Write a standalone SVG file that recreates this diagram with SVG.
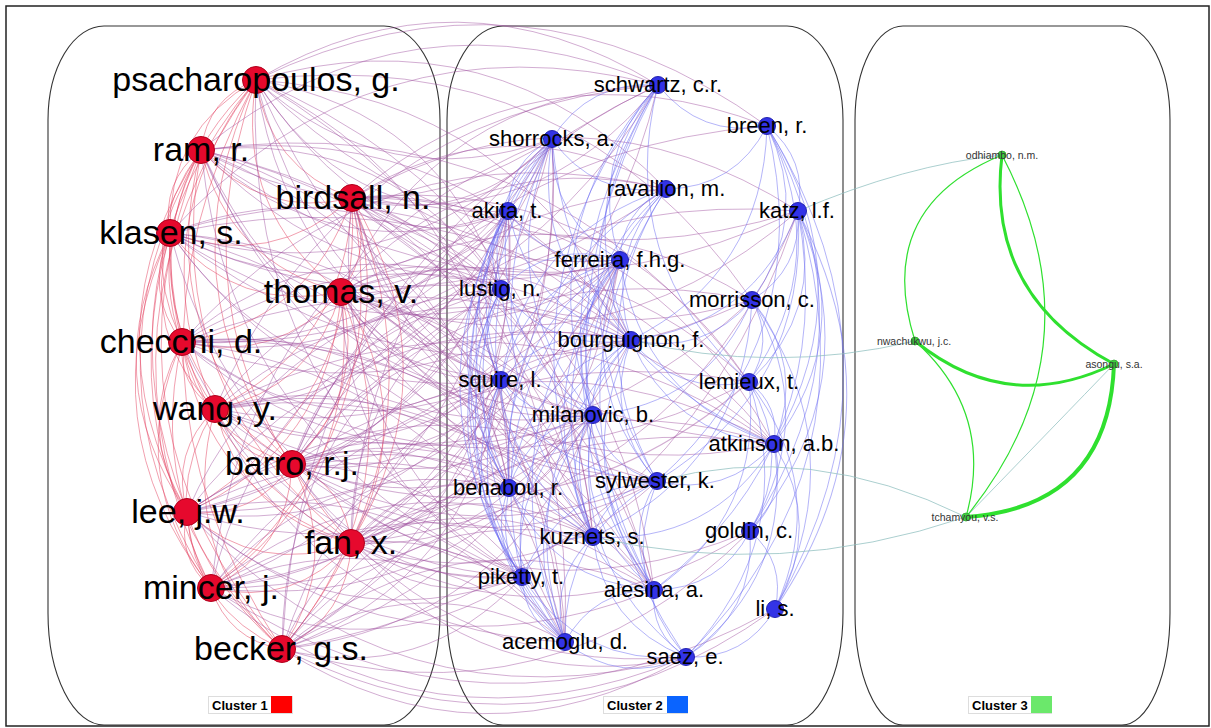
<svg xmlns="http://www.w3.org/2000/svg" xmlns:xlink="http://www.w3.org/1999/xlink" width="1211" height="728" viewBox="0 0 1211 728">
<style>
.panel{fill:none;stroke:#333;stroke-width:1.1}
.c1{stroke:#e3405f;stroke-opacity:.5}
.cx{stroke:#9d4c9e;stroke-opacity:.46}
.c2{stroke:#6a6af2;stroke-opacity:.5}
.g3{fill:none;stroke:#2fe02f}
.tl{fill:none;stroke:#8fbfbf;stroke-opacity:.75;stroke-width:1}
.n1 circle{fill:#e6092d;stroke:#b0001c;stroke-width:1}
.n2 circle{fill:#3333e6;stroke:#2424b0;stroke-width:1}
.n3 circle{fill:#3fcf3f;stroke:#2fa52f;stroke-width:.8}
.n1 text{font-family:"Liberation Sans",Arial,sans-serif;font-size:34px;text-anchor:middle;fill:#000}
.n2 text{font-family:"Liberation Sans",Arial,sans-serif;font-size:22px;text-anchor:middle;fill:#000}
.n3 text{font-family:"Liberation Sans",Arial,sans-serif;font-size:10.5px;text-anchor:middle;fill:#333}
.leg rect.box{fill:#fff;stroke:#ddd;stroke-width:1}
.leg text{font-family:"Liberation Sans",Arial,sans-serif;font-size:13px;font-weight:bold;fill:#000}
</style>
<defs>
<!-- unit edge from (0,0) to (1,0); bent to one side or the other -->
<path id="e" d="M0 0Q.5 .3 1 0" fill="none" stroke-width="1" vector-effect="non-scaling-stroke"/>
<path id="f" d="M0 0Q.5 -.3 1 0" fill="none" stroke-width="1" vector-effect="non-scaling-stroke"/>
</defs>
<rect x="0" y="0" width="1211" height="728" fill="#fff"/>
<rect x="6" y="6" width="1203" height="720" fill="none" stroke="#222" stroke-width="1.5"/>

<g id="panels">
<path class="panel" d="M104 26H384A56 94 0 0 1 440 120V613A56 112 0 0 1 384 725H104A56 112 0 0 1 48 613V120A56 94 0 0 1 104 26Z"/>
<path class="panel" d="M503 26H787A56 94 0 0 1 843 120V613A56 112 0 0 1 787 725H503A56 112 0 0 1 447 613V120A56 94 0 0 1 503 26Z"/>
<path class="panel" d="M903 26H1122A48 94 0 0 1 1170 120V613A48 112 0 0 1 1122 725H903A48 112 0 0 1 855 613V120A48 94 0 0 1 903 26Z"/>
</g>

<g id="connectors">
<g class="c1">
<g transform="translate(256 80)">
<use href="#e" transform="matrix(-55 70 -70 -55 0 0)"/>
<use href="#e" transform="matrix(96 118 -118 96 0 0)"/>
<use href="#e" transform="matrix(-86 153 -153 -86 0 0)"/>
<use href="#e" transform="matrix(85 212 -212 85 0 0)"/>
<use href="#e" transform="matrix(-74 262 -262 -74 0 0)"/>
<use href="#e" transform="matrix(-41 329 -329 -41 0 0)"/>
<use href="#e" transform="matrix(36 384 -384 36 0 0)"/>
<use href="#e" transform="matrix(-69 432 -432 -69 0 0)"/>
<use href="#e" transform="matrix(95 463 -463 95 0 0)"/>
<use href="#e" transform="matrix(-45 508 -508 -45 0 0)"/>
<use href="#e" transform="matrix(26 569 -569 26 0 0)"/>
</g>
<g transform="translate(201 150)">
<use href="#e" transform="matrix(151 48 -48 151 0 0)"/>
<use href="#e" transform="matrix(-31 83 -83 -31 0 0)"/>
<use href="#e" transform="matrix(140 142 -142 140 0 0)"/>
<use href="#e" transform="matrix(-19 192 -192 -19 0 0)"/>
<use href="#e" transform="matrix(14 259 -259 14 0 0)"/>
<use href="#e" transform="matrix(91 314 -314 91 0 0)"/>
<use href="#e" transform="matrix(-14 362 -362 -14 0 0)"/>
<use href="#e" transform="matrix(150 393 -393 150 0 0)"/>
<use href="#e" transform="matrix(10 438 -438 10 0 0)"/>
<use href="#e" transform="matrix(81 499 -499 81 0 0)"/>
</g>
<g transform="translate(352 198)">
<use href="#f" transform="matrix(-182 35 -35 -182 0 0)"/>
<use href="#f" transform="matrix(-11 94 -94 -11 0 0)"/>
<use href="#f" transform="matrix(-170 144 -144 -170 0 0)"/>
<use href="#f" transform="matrix(-137 211 -211 -137 0 0)"/>
<use href="#f" transform="matrix(-60 266 -266 -60 0 0)"/>
<use href="#f" transform="matrix(-165 314 -314 -165 0 0)"/>
<use href="#f" transform="matrix(-1 345 -345 -1 0 0)"/>
<use href="#f" transform="matrix(-141 390 -390 -141 0 0)"/>
<use href="#f" transform="matrix(-70 451 -451 -70 0 0)"/>
</g>
<g transform="translate(170 233)">
<use href="#e" transform="matrix(171 59 -59 171 0 0)"/>
<use href="#e" transform="matrix(12 109 -109 12 0 0)"/>
<use href="#e" transform="matrix(45 176 -176 45 0 0)"/>
<use href="#e" transform="matrix(122 231 -231 122 0 0)"/>
<use href="#e" transform="matrix(17 279 -279 17 0 0)"/>
<use href="#e" transform="matrix(181 310 -310 181 0 0)"/>
<use href="#e" transform="matrix(41 355 -355 41 0 0)"/>
<use href="#e" transform="matrix(112 416 -416 112 0 0)"/>
</g>
<g transform="translate(341 292)">
<use href="#f" transform="matrix(-159 50 -50 -159 0 0)"/>
<use href="#f" transform="matrix(-126 117 -117 -126 0 0)"/>
<use href="#f" transform="matrix(-49 172 -172 -49 0 0)"/>
<use href="#f" transform="matrix(-154 220 -220 -154 0 0)"/>
<use href="#f" transform="matrix(10 251 -251 10 0 0)"/>
<use href="#f" transform="matrix(-130 296 -296 -130 0 0)"/>
<use href="#f" transform="matrix(-59 357 -357 -59 0 0)"/>
</g>
<g transform="translate(182 342)">
<use href="#e" transform="matrix(33 67 -67 33 0 0)"/>
<use href="#e" transform="matrix(110 122 -122 110 0 0)"/>
<use href="#e" transform="matrix(5 170 -170 5 0 0)"/>
<use href="#e" transform="matrix(169 201 -201 169 0 0)"/>
<use href="#e" transform="matrix(29 246 -246 29 0 0)"/>
<use href="#e" transform="matrix(100 307 -307 100 0 0)"/>
</g>
<g transform="translate(215 409)">
<use href="#e" transform="matrix(77 55 -55 77 0 0)"/>
<use href="#e" transform="matrix(-28 103 -103 -28 0 0)"/>
<use href="#e" transform="matrix(136 134 -134 136 0 0)"/>
<use href="#e" transform="matrix(-4 179 -179 -4 0 0)"/>
<use href="#e" transform="matrix(67 240 -240 67 0 0)"/>
</g>
<g transform="translate(292 464)">
<use href="#f" transform="matrix(-105 48 -48 -105 0 0)"/>
<use href="#f" transform="matrix(59 79 -79 59 0 0)"/>
<use href="#f" transform="matrix(-81 124 -124 -81 0 0)"/>
<use href="#f" transform="matrix(-10 185 -185 -10 0 0)"/>
</g>
<g transform="translate(187 512)">
<use href="#e" transform="matrix(164 31 -31 164 0 0)"/>
<use href="#e" transform="matrix(24 76 -76 24 0 0)"/>
<use href="#e" transform="matrix(95 137 -137 95 0 0)"/>
</g>
<g transform="translate(351 543)">
<use href="#f" transform="matrix(-140 45 -45 -140 0 0)"/>
<use href="#f" transform="matrix(-69 106 -106 -69 0 0)"/>
</g>
<g transform="translate(211 588)">
<use href="#e" transform="matrix(71 61 -61 71 0 0)"/>
</g>
</g>

<g class="cx">
<g transform="translate(256 80)">
<use href="#f" transform="matrix(402 5 -5 402 0 0)"/>
<use href="#f" transform="matrix(511 46 -46 511 0 0)"/>
<use href="#e" transform="matrix(296 59 -59 296 0 0)"/>
<use href="#f" transform="matrix(410 109 -109 410 0 0)"/>
<use href="#e" transform="matrix(252 131 -131 252 0 0)"/>
<use href="#e" transform="matrix(364 180 -180 364 0 0)"/>
<use href="#f" transform="matrix(245 209 -209 245 0 0)"/>
<use href="#f" transform="matrix(375 260 -260 375 0 0)"/>
<use href="#e" transform="matrix(245 300 -300 245 0 0)"/>
<use href="#e" transform="matrix(337 335 -335 337 0 0)"/>
<use href="#f" transform="matrix(253 408 -408 253 0 0)"/>
<use href="#f" transform="matrix(337 457 -457 337 0 0)"/>
<use href="#e" transform="matrix(266 497 -497 266 0 0)"/>
<use href="#f" transform="matrix(309 562 -562 309 0 0)"/>
<use href="#e" transform="matrix(542 131 -131 542 0 0)"/>
<use href="#f" transform="matrix(496 220 -220 496 0 0)"/>
<use href="#e" transform="matrix(518 364 -364 518 0 0)"/>
</g>
<g transform="translate(201 150)">
<use href="#e" transform="matrix(351 -11 11 351 0 0)"/>
<use href="#e" transform="matrix(307 61 -61 307 0 0)"/>
<use href="#e" transform="matrix(419 110 -110 419 0 0)"/>
<use href="#f" transform="matrix(300 139 -139 300 0 0)"/>
<use href="#f" transform="matrix(430 190 -190 430 0 0)"/>
<use href="#e" transform="matrix(300 230 -230 300 0 0)"/>
<use href="#e" transform="matrix(392 265 -265 392 0 0)"/>
<use href="#e" transform="matrix(456 331 -331 456 0 0)"/>
<use href="#f" transform="matrix(308 338 -338 308 0 0)"/>
<use href="#f" transform="matrix(392 387 -387 392 0 0)"/>
<use href="#e" transform="matrix(321 427 -427 321 0 0)"/>
<use href="#f" transform="matrix(453 440 -440 453 0 0)"/>
<use href="#f" transform="matrix(364 492 -492 364 0 0)"/>
<use href="#f" transform="matrix(457 -65 65 457 0 0)"/>
<use href="#e" transform="matrix(597 61 -61 597 0 0)"/>
<use href="#f" transform="matrix(548 232 -232 548 0 0)"/>
</g>
<g transform="translate(352 198)">
<use href="#e" transform="matrix(306 -113 113 306 0 0)"/>
<use href="#e" transform="matrix(200 -59 59 200 0 0)"/>
<use href="#f" transform="matrix(314 -9 9 314 0 0)"/>
<use href="#e" transform="matrix(156 13 -13 156 0 0)"/>
<use href="#f" transform="matrix(446 13 -13 446 0 0)"/>
<use href="#e" transform="matrix(268 62 -62 268 0 0)"/>
<use href="#f" transform="matrix(149 91 -91 149 0 0)"/>
<use href="#f" transform="matrix(279 142 -142 279 0 0)"/>
<use href="#e" transform="matrix(149 182 -182 149 0 0)"/>
<use href="#e" transform="matrix(241 217 -217 241 0 0)"/>
<use href="#f" transform="matrix(422 246 -246 422 0 0)"/>
<use href="#e" transform="matrix(305 283 -283 305 0 0)"/>
<use href="#f" transform="matrix(157 290 -290 157 0 0)"/>
<use href="#f" transform="matrix(241 339 -339 241 0 0)"/>
<use href="#e" transform="matrix(170 379 -379 170 0 0)"/>
<use href="#f" transform="matrix(415 -72 72 415 0 0)"/>
<use href="#e" transform="matrix(400 102 -102 400 0 0)"/>
<use href="#f" transform="matrix(397 184 -184 397 0 0)"/>
<use href="#f" transform="matrix(302 392 -392 302 0 0)"/>
</g>
<g transform="translate(170 233)">
<use href="#e" transform="matrix(382 -94 94 382 0 0)"/>
<use href="#e" transform="matrix(338 -22 22 338 0 0)"/>
<use href="#e" transform="matrix(450 27 -27 450 0 0)"/>
<use href="#f" transform="matrix(331 56 -56 331 0 0)"/>
<use href="#e" transform="matrix(582 67 -67 582 0 0)"/>
<use href="#f" transform="matrix(461 107 -107 461 0 0)"/>
<use href="#e" transform="matrix(331 147 -147 331 0 0)"/>
<use href="#e" transform="matrix(423 182 -182 423 0 0)"/>
<use href="#f" transform="matrix(339 255 -255 339 0 0)"/>
<use href="#f" transform="matrix(423 304 -304 423 0 0)"/>
<use href="#e" transform="matrix(352 344 -344 352 0 0)"/>
<use href="#f" transform="matrix(395 409 -409 395 0 0)"/>
<use href="#f" transform="matrix(488 -148 148 488 0 0)"/>
<use href="#e" transform="matrix(496 -44 44 496 0 0)"/>
<use href="#f" transform="matrix(604 211 -211 604 0 0)"/>
</g>
<g transform="translate(341 292)">
<use href="#e" transform="matrix(211 -153 153 211 0 0)"/>
<use href="#f" transform="matrix(325 -103 103 325 0 0)"/>
<use href="#e" transform="matrix(167 -81 81 167 0 0)"/>
<use href="#e" transform="matrix(279 -32 32 279 0 0)"/>
<use href="#f" transform="matrix(160 -3 3 160 0 0)"/>
<use href="#f" transform="matrix(290 48 -48 290 0 0)"/>
<use href="#e" transform="matrix(160 88 -88 160 0 0)"/>
<use href="#f" transform="matrix(408 90 -90 408 0 0)"/>
<use href="#e" transform="matrix(252 123 -123 252 0 0)"/>
<use href="#e" transform="matrix(316 189 -189 316 0 0)"/>
<use href="#f" transform="matrix(168 196 -196 168 0 0)"/>
<use href="#f" transform="matrix(252 245 -245 252 0 0)"/>
<use href="#e" transform="matrix(181 285 -285 181 0 0)"/>
<use href="#f" transform="matrix(313 298 -298 313 0 0)"/>
<use href="#f" transform="matrix(224 350 -350 224 0 0)"/>
<use href="#f" transform="matrix(317 -207 207 317 0 0)"/>
<use href="#e" transform="matrix(457 -81 81 457 0 0)"/>
<use href="#f" transform="matrix(411 8 -8 411 0 0)"/>
<use href="#e" transform="matrix(433 152 -152 433 0 0)"/>
</g>
<g transform="translate(182 342)">
<use href="#e" transform="matrix(476 -257 257 476 0 0)"/>
<use href="#e" transform="matrix(370 -203 203 370 0 0)"/>
<use href="#e" transform="matrix(326 -131 131 326 0 0)"/>
<use href="#e" transform="matrix(438 -82 82 438 0 0)"/>
<use href="#f" transform="matrix(319 -53 53 319 0 0)"/>
<use href="#f" transform="matrix(449 -2 2 449 0 0)"/>
<use href="#e" transform="matrix(319 38 -38 319 0 0)"/>
<use href="#e" transform="matrix(411 73 -73 411 0 0)"/>
<use href="#f" transform="matrix(592 102 -102 592 0 0)"/>
<use href="#f" transform="matrix(327 146 -146 327 0 0)"/>
<use href="#f" transform="matrix(411 195 -195 411 0 0)"/>
<use href="#e" transform="matrix(340 235 -235 340 0 0)"/>
<use href="#f" transform="matrix(383 300 -300 383 0 0)"/>
<use href="#f" transform="matrix(484 -153 153 484 0 0)"/>
<use href="#e" transform="matrix(567 40 -40 567 0 0)"/>
<use href="#f" transform="matrix(472 248 -248 472 0 0)"/>
</g>
<g transform="translate(215 409)">
<use href="#e" transform="matrix(337 -270 270 337 0 0)"/>
<use href="#e" transform="matrix(293 -198 198 293 0 0)"/>
<use href="#e" transform="matrix(405 -149 149 405 0 0)"/>
<use href="#f" transform="matrix(286 -120 120 286 0 0)"/>
<use href="#f" transform="matrix(416 -69 69 416 0 0)"/>
<use href="#e" transform="matrix(286 -29 29 286 0 0)"/>
<use href="#e" transform="matrix(378 6 -6 378 0 0)"/>
<use href="#e" transform="matrix(442 72 -72 442 0 0)"/>
<use href="#f" transform="matrix(294 79 -79 294 0 0)"/>
<use href="#f" transform="matrix(378 128 -128 378 0 0)"/>
<use href="#e" transform="matrix(307 168 -168 307 0 0)"/>
<use href="#f" transform="matrix(439 181 -181 439 0 0)"/>
<use href="#f" transform="matrix(443 -324 324 443 0 0)"/>
<use href="#e" transform="matrix(537 -109 109 537 0 0)"/>
<use href="#f" transform="matrix(559 35 -35 559 0 0)"/>
<use href="#e" transform="matrix(350 233 -233 350 0 0)"/>
</g>
<g transform="translate(292 464)">
<use href="#f" transform="matrix(475 -338 338 475 0 0)"/>
<use href="#f" transform="matrix(374 -275 275 374 0 0)"/>
<use href="#e" transform="matrix(216 -253 253 216 0 0)"/>
<use href="#f" transform="matrix(506 -253 253 506 0 0)"/>
<use href="#e" transform="matrix(328 -204 204 328 0 0)"/>
<use href="#f" transform="matrix(209 -175 175 209 0 0)"/>
<use href="#f" transform="matrix(339 -124 124 339 0 0)"/>
<use href="#e" transform="matrix(209 -84 84 209 0 0)"/>
<use href="#e" transform="matrix(301 -49 49 301 0 0)"/>
<use href="#e" transform="matrix(365 17 -17 365 0 0)"/>
<use href="#f" transform="matrix(217 24 -24 217 0 0)"/>
<use href="#f" transform="matrix(301 73 -73 301 0 0)"/>
<use href="#e" transform="matrix(230 113 -113 230 0 0)"/>
<use href="#f" transform="matrix(362 126 -126 362 0 0)"/>
<use href="#f" transform="matrix(273 178 -178 273 0 0)"/>
<use href="#e" transform="matrix(394 193 -193 394 0 0)"/>
<use href="#e" transform="matrix(366 -379 379 366 0 0)"/>
<use href="#f" transform="matrix(460 -164 164 460 0 0)"/>
<use href="#e" transform="matrix(457 -82 82 457 0 0)"/>
<use href="#f" transform="matrix(482 -20 20 482 0 0)"/>
<use href="#e" transform="matrix(458 67 -67 458 0 0)"/>
</g>
<g transform="translate(187 512)">
<use href="#e" transform="matrix(365 -373 373 365 0 0)"/>
<use href="#e" transform="matrix(321 -301 301 321 0 0)"/>
<use href="#f" transform="matrix(314 -223 223 314 0 0)"/>
<use href="#f" transform="matrix(444 -172 172 444 0 0)"/>
<use href="#e" transform="matrix(314 -132 132 314 0 0)"/>
<use href="#e" transform="matrix(406 -97 97 406 0 0)"/>
<use href="#f" transform="matrix(322 -24 24 322 0 0)"/>
<use href="#f" transform="matrix(406 25 -25 406 0 0)"/>
<use href="#e" transform="matrix(335 65 -65 335 0 0)"/>
<use href="#f" transform="matrix(378 130 -130 378 0 0)"/>
<use href="#e" transform="matrix(433 -252 252 433 0 0)"/>
<use href="#f" transform="matrix(470 -31 31 470 0 0)"/>
<use href="#e" transform="matrix(467 78 -78 467 0 0)"/>
<use href="#e" transform="matrix(499 145 -145 499 0 0)"/>
</g>
<g transform="translate(351 543)">
<use href="#e" transform="matrix(201 -404 404 201 0 0)"/>
<use href="#e" transform="matrix(157 -332 332 157 0 0)"/>
<use href="#e" transform="matrix(269 -283 283 269 0 0)"/>
<use href="#f" transform="matrix(150 -254 254 150 0 0)"/>
<use href="#f" transform="matrix(280 -203 203 280 0 0)"/>
<use href="#e" transform="matrix(150 -163 163 150 0 0)"/>
<use href="#e" transform="matrix(242 -128 128 242 0 0)"/>
<use href="#e" transform="matrix(306 -62 62 306 0 0)"/>
<use href="#f" transform="matrix(158 -55 55 158 0 0)"/>
<use href="#e" transform="matrix(399 -12 12 399 0 0)"/>
<use href="#f" transform="matrix(242 -6 6 242 0 0)"/>
<use href="#e" transform="matrix(171 34 -34 171 0 0)"/>
<use href="#f" transform="matrix(303 47 -47 303 0 0)"/>
<use href="#f" transform="matrix(214 99 -99 214 0 0)"/>
<use href="#f" transform="matrix(307 -458 458 307 0 0)"/>
<use href="#e" transform="matrix(447 -332 332 447 0 0)"/>
<use href="#f" transform="matrix(423 -99 99 423 0 0)"/>
<use href="#e" transform="matrix(335 114 -114 335 0 0)"/>
</g>
<g transform="translate(211 588)">
<use href="#e" transform="matrix(297 -377 377 297 0 0)"/>
<use href="#e" transform="matrix(409 -328 328 409 0 0)"/>
<use href="#f" transform="matrix(290 -299 299 290 0 0)"/>
<use href="#e" transform="matrix(290 -208 208 290 0 0)"/>
<use href="#f" transform="matrix(538 -206 206 538 0 0)"/>
<use href="#e" transform="matrix(382 -173 173 382 0 0)"/>
<use href="#f" transform="matrix(298 -100 100 298 0 0)"/>
<use href="#f" transform="matrix(382 -51 51 382 0 0)"/>
<use href="#e" transform="matrix(311 -11 11 311 0 0)"/>
<use href="#e" transform="matrix(564 21 -21 564 0 0)"/>
<use href="#f" transform="matrix(354 54 -54 354 0 0)"/>
<use href="#f" transform="matrix(341 -449 449 341 0 0)"/>
<use href="#e" transform="matrix(420 -248 248 420 0 0)"/>
<use href="#f" transform="matrix(443 2 -2 443 0 0)"/>
<use href="#e" transform="matrix(475 69 -69 475 0 0)"/>
</g>
<g transform="translate(282 649)">
<use href="#e" transform="matrix(270 -510 510 270 0 0)"/>
<use href="#e" transform="matrix(226 -438 438 226 0 0)"/>
<use href="#e" transform="matrix(338 -389 389 338 0 0)"/>
<use href="#f" transform="matrix(219 -360 360 219 0 0)"/>
<use href="#f" transform="matrix(349 -309 309 349 0 0)"/>
<use href="#e" transform="matrix(219 -269 269 219 0 0)"/>
<use href="#e" transform="matrix(311 -234 234 311 0 0)"/>
<use href="#f" transform="matrix(227 -161 161 227 0 0)"/>
<use href="#e" transform="matrix(468 -118 118 468 0 0)"/>
<use href="#f" transform="matrix(311 -112 112 311 0 0)"/>
<use href="#e" transform="matrix(240 -72 72 240 0 0)"/>
<use href="#f" transform="matrix(372 -59 59 372 0 0)"/>
<use href="#f" transform="matrix(283 -7 7 283 0 0)"/>
<use href="#e" transform="matrix(404 8 -8 404 0 0)"/>
<use href="#f" transform="matrix(376 -564 564 376 0 0)"/>
<use href="#e" transform="matrix(516 -438 438 516 0 0)"/>
<use href="#f" transform="matrix(492 -205 205 492 0 0)"/>
<use href="#e" transform="matrix(493 -40 40 493 0 0)"/>
</g>
</g>

<g class="c2">
<g transform="translate(658 85)">
<use href="#e" transform="matrix(109 41 -41 109 0 0)"/>
<use href="#e" transform="matrix(-106 54 -54 -106 0 0)"/>
<use href="#e" transform="matrix(-38 175 -175 -38 0 0)"/>
<use href="#e" transform="matrix(-27 255 -255 -27 0 0)"/>
<use href="#e" transform="matrix(91 297 -297 91 0 0)"/>
<use href="#e" transform="matrix(-65 330 -330 -65 0 0)"/>
<use href="#e" transform="matrix(-1 396 -396 -1 0 0)"/>
<use href="#e" transform="matrix(-65 452 -452 -65 0 0)"/>
<use href="#e" transform="matrix(-4 505 -505 -4 0 0)"/>
<use href="#e" transform="matrix(28 572 -572 28 0 0)"/>
</g>
<g transform="translate(767 126)">
<use href="#f" transform="matrix(-101 63 -63 -101 0 0)"/>
<use href="#f" transform="matrix(31 85 -85 31 0 0)"/>
<use href="#f" transform="matrix(-15 174 -174 -15 0 0)"/>
<use href="#f" transform="matrix(-136 214 -214 -136 0 0)"/>
<use href="#f" transform="matrix(-18 256 -256 -18 0 0)"/>
<use href="#f" transform="matrix(7 318 -318 7 0 0)"/>
<use href="#f" transform="matrix(-110 355 -355 -110 0 0)"/>
<use href="#f" transform="matrix(-17 405 -405 -17 0 0)"/>
<use href="#f" transform="matrix(8 483 -483 8 0 0)"/>
</g>
<g transform="translate(552 139)">
<use href="#e" transform="matrix(114 50 -50 114 0 0)"/>
<use href="#e" transform="matrix(-44 72 -72 -44 0 0)"/>
<use href="#e" transform="matrix(68 121 -121 68 0 0)"/>
<use href="#e" transform="matrix(-51 150 -150 -51 0 0)"/>
<use href="#e" transform="matrix(79 201 -201 79 0 0)"/>
<use href="#e" transform="matrix(-51 241 -241 -51 0 0)"/>
<use href="#e" transform="matrix(41 276 -276 41 0 0)"/>
<use href="#e" transform="matrix(222 305 -305 222 0 0)"/>
<use href="#e" transform="matrix(-43 349 -349 -43 0 0)"/>
<use href="#e" transform="matrix(41 398 -398 41 0 0)"/>
<use href="#e" transform="matrix(-30 438 -438 -30 0 0)"/>
<use href="#e" transform="matrix(13 503 -503 13 0 0)"/>
</g>
<g transform="translate(666 189)">
<use href="#e" transform="matrix(-46 71 -71 -46 0 0)"/>
<use href="#e" transform="matrix(-35 151 -151 -35 0 0)"/>
<use href="#e" transform="matrix(-165 191 -191 -165 0 0)"/>
<use href="#e" transform="matrix(-73 226 -226 -73 0 0)"/>
<use href="#e" transform="matrix(-9 292 -292 -9 0 0)"/>
<use href="#e" transform="matrix(-157 299 -299 -157 0 0)"/>
<use href="#e" transform="matrix(-73 348 -348 -73 0 0)"/>
<use href="#e" transform="matrix(-12 401 -401 -12 0 0)"/>
</g>
<g transform="translate(508 211)">
<use href="#e" transform="matrix(112 49 -49 112 0 0)"/>
<use href="#e" transform="matrix(-7 78 -78 -7 0 0)"/>
<use href="#e" transform="matrix(123 129 -129 123 0 0)"/>
<use href="#e" transform="matrix(-7 169 -169 -7 0 0)"/>
<use href="#e" transform="matrix(85 204 -204 85 0 0)"/>
<use href="#e" transform="matrix(1 277 -277 1 0 0)"/>
<use href="#e" transform="matrix(14 366 -366 14 0 0)"/>
<use href="#e" transform="matrix(57 431 -431 57 0 0)"/>
</g>
<g transform="translate(798 211)">
<use href="#f" transform="matrix(-46 89 -89 -46 0 0)"/>
<use href="#f" transform="matrix(-167 129 -129 -167 0 0)"/>
<use href="#f" transform="matrix(-49 171 -171 -49 0 0)"/>
<use href="#f" transform="matrix(-24 233 -233 -24 0 0)"/>
<use href="#f" transform="matrix(-141 270 -270 -141 0 0)"/>
<use href="#f" transform="matrix(-48 320 -320 -48 0 0)"/>
<use href="#f" transform="matrix(-144 379 -379 -144 0 0)"/>
<use href="#f" transform="matrix(-23 398 -398 -23 0 0)"/>
<use href="#f" transform="matrix(-112 446 -446 -112 0 0)"/>
</g>
<g transform="translate(620 260)">
<use href="#e" transform="matrix(-119 29 -29 -119 0 0)"/>
<use href="#e" transform="matrix(11 80 -80 11 0 0)"/>
<use href="#e" transform="matrix(-119 120 -120 -119 0 0)"/>
<use href="#e" transform="matrix(-27 155 -155 -27 0 0)"/>
<use href="#e" transform="matrix(154 184 -184 154 0 0)"/>
<use href="#e" transform="matrix(37 221 -221 37 0 0)"/>
<use href="#e" transform="matrix(-111 228 -228 -111 0 0)"/>
<use href="#e" transform="matrix(-27 277 -277 -27 0 0)"/>
<use href="#e" transform="matrix(-98 317 -317 -98 0 0)"/>
<use href="#e" transform="matrix(34 330 -330 34 0 0)"/>
<use href="#e" transform="matrix(-55 382 -382 -55 0 0)"/>
</g>
<g transform="translate(501 289)">
<use href="#e" transform="matrix(130 51 -51 130 0 0)"/>
<use href="#e" transform="matrix(0 91 -91 0 0 0)"/>
<use href="#e" transform="matrix(92 126 -126 92 0 0)"/>
<use href="#e" transform="matrix(8 199 -199 8 0 0)"/>
<use href="#e" transform="matrix(92 248 -248 92 0 0)"/>
<use href="#e" transform="matrix(21 288 -288 21 0 0)"/>
<use href="#e" transform="matrix(64 353 -353 64 0 0)"/>
</g>
<g transform="translate(752 300)">
<use href="#f" transform="matrix(-121 40 -40 -121 0 0)"/>
<use href="#f" transform="matrix(-3 82 -82 -3 0 0)"/>
<use href="#f" transform="matrix(-159 115 -115 -159 0 0)"/>
<use href="#f" transform="matrix(22 144 -144 22 0 0)"/>
<use href="#f" transform="matrix(-2 231 -231 -2 0 0)"/>
<use href="#f" transform="matrix(-159 237 -237 -159 0 0)"/>
<use href="#f" transform="matrix(23 309 -309 23 0 0)"/>
</g>
<g transform="translate(631 340)">
<use href="#e" transform="matrix(-130 40 -40 -130 0 0)"/>
<use href="#e" transform="matrix(118 42 -42 118 0 0)"/>
<use href="#e" transform="matrix(-38 75 -75 -38 0 0)"/>
<use href="#e" transform="matrix(143 104 -104 143 0 0)"/>
<use href="#e" transform="matrix(26 141 -141 26 0 0)"/>
<use href="#e" transform="matrix(-122 148 -148 -122 0 0)"/>
<use href="#e" transform="matrix(-38 197 -197 -38 0 0)"/>
<use href="#e" transform="matrix(-109 237 -237 -109 0 0)"/>
<use href="#e" transform="matrix(23 250 -250 23 0 0)"/>
<use href="#e" transform="matrix(-66 302 -302 -66 0 0)"/>
</g>
<g transform="translate(501 380)">
<use href="#e" transform="matrix(92 35 -35 92 0 0)"/>
<use href="#e" transform="matrix(156 101 -101 156 0 0)"/>
<use href="#e" transform="matrix(8 108 -108 8 0 0)"/>
<use href="#e" transform="matrix(92 157 -157 92 0 0)"/>
<use href="#e" transform="matrix(21 197 -197 21 0 0)"/>
<use href="#e" transform="matrix(64 262 -262 64 0 0)"/>
</g>
<g transform="translate(749 382)">
<use href="#f" transform="matrix(25 62 -62 25 0 0)"/>
<use href="#f" transform="matrix(1 149 -149 1 0 0)"/>
<use href="#f" transform="matrix(-95 208 -208 -95 0 0)"/>
<use href="#f" transform="matrix(26 227 -227 26 0 0)"/>
<use href="#f" transform="matrix(-63 275 -275 -63 0 0)"/>
</g>
<g transform="translate(593 415)">
<use href="#e" transform="matrix(64 66 -66 64 0 0)"/>
<use href="#e" transform="matrix(-84 73 -73 -84 0 0)"/>
<use href="#e" transform="matrix(0 122 -122 0 0 0)"/>
<use href="#e" transform="matrix(-71 162 -162 -71 0 0)"/>
<use href="#e" transform="matrix(61 175 -175 61 0 0)"/>
<use href="#e" transform="matrix(-28 227 -227 -28 0 0)"/>
<use href="#e" transform="matrix(93 242 -242 93 0 0)"/>
</g>
<g transform="translate(774 444)">
<use href="#f" transform="matrix(-117 37 -37 -117 0 0)"/>
<use href="#f" transform="matrix(-24 87 -87 -24 0 0)"/>
<use href="#f" transform="matrix(-181 93 -93 -181 0 0)"/>
<use href="#f" transform="matrix(1 165 -165 1 0 0)"/>
<use href="#f" transform="matrix(-88 213 -213 -88 0 0)"/>
</g>
<g transform="translate(657 481)">
<use href="#e" transform="matrix(-64 56 -56 -64 0 0)"/>
<use href="#e" transform="matrix(-135 96 -96 -135 0 0)"/>
<use href="#e" transform="matrix(-3 109 -109 -3 0 0)"/>
<use href="#e" transform="matrix(-92 161 -161 -92 0 0)"/>
<use href="#e" transform="matrix(29 176 -176 29 0 0)"/>
</g>
<g transform="translate(509 488)">
<use href="#e" transform="matrix(84 49 -49 84 0 0)"/>
<use href="#e" transform="matrix(13 89 -89 13 0 0)"/>
<use href="#e" transform="matrix(145 102 -102 145 0 0)"/>
<use href="#e" transform="matrix(56 154 -154 56 0 0)"/>
</g>
<g transform="translate(750 531)">
<use href="#f" transform="matrix(-96 59 -59 -96 0 0)"/>
<use href="#f" transform="matrix(25 78 -78 25 0 0)"/>
<use href="#f" transform="matrix(-64 126 -126 -64 0 0)"/>
</g>
<g transform="translate(593 537)">
<use href="#e" transform="matrix(-71 40 -40 -71 0 0)"/>
<use href="#e" transform="matrix(61 53 -53 61 0 0)"/>
<use href="#e" transform="matrix(-28 105 -105 -28 0 0)"/>
<use href="#e" transform="matrix(93 120 -120 93 0 0)"/>
</g>
<g transform="translate(522 577)">
<use href="#e" transform="matrix(43 65 -65 43 0 0)"/>
<use href="#e" transform="matrix(164 80 -80 164 0 0)"/>
</g>
<g transform="translate(654 590)">
<use href="#e" transform="matrix(-89 52 -52 -89 0 0)"/>
<use href="#e" transform="matrix(32 67 -67 32 0 0)"/>
</g>
<g transform="translate(775 609)">
<use href="#f" transform="matrix(-89 48 -48 -89 0 0)"/>
</g>
<g transform="translate(565 642)">
<use href="#e" transform="matrix(121 15 -15 121 0 0)"/>
</g>
</g>

<!-- links leaving the third cluster -->
<g>
<path class="tl" d="M1002 155Q905 165 798 211"/>
<path class="tl" d="M915 341Q773 375 631 340"/>
<path class="tl" d="M966 517Q810 440 657 481"/>
<path class="tl" d="M966 517Q780 580 593 537"/>
<path class="tl" d="M1114 364Q1060 420 966 517"/>
</g>
<!-- links inside the third cluster -->
<g>
<path class="g3" stroke-width="1.2" d="M1002 155Q873 208 915 341"/>
<path class="g3" stroke-width="1.2" d="M966 517Q1103 348 1002 155"/>
<path class="g3" stroke-width="1.2" d="M966 517Q995 413 915 341"/>
<path class="g3" stroke-width="3" d="M1002 155Q985 295 1114 364"/>
<path class="g3" stroke-width="3" d="M915 341Q1007 416 1114 364"/>
<path class="g3" stroke-width="4" d="M966 517Q1109 507 1114 364"/>
</g>
</g>

<g id="nodes">
<g id="n-psacharopoulos" class="n1"><circle cx="256" cy="80" r="13.5"/><text x="256" y="91">psacharopoulos, g.</text></g>
<g id="n-ram" class="n1"><circle cx="201" cy="150" r="13.5"/><text x="201" y="161">ram, r.</text></g>
<g id="n-birdsall" class="n1"><circle cx="352" cy="198" r="13.5"/><text x="353" y="209">birdsall, n.</text></g>
<g id="n-klasen" class="n1"><circle cx="170" cy="233" r="13.5"/><text x="171" y="244">klasen, s.</text></g>
<g id="n-thomas" class="n1"><circle cx="341" cy="292" r="13.5"/><text x="341" y="303">thomas, v.</text></g>
<g id="n-checchi" class="n1"><circle cx="182" cy="342" r="13.5"/><text x="181" y="353">checchi, d.</text></g>
<g id="n-wang" class="n1"><circle cx="215" cy="409" r="13.5"/><text x="215" y="420">wang, y.</text></g>
<g id="n-barro" class="n1"><circle cx="292" cy="464" r="13.5"/><text x="292" y="475">barro, r.j.</text></g>
<g id="n-lee" class="n1"><circle cx="187" cy="512" r="13.5"/><text x="188" y="523">lee, j.w.</text></g>
<g id="n-fan" class="n1"><circle cx="351" cy="543" r="13.5"/><text x="351" y="554">fan, x.</text></g>
<g id="n-mincer" class="n1"><circle cx="211" cy="588" r="13.5"/><text x="211" y="599">mincer, j.</text></g>
<g id="n-becker" class="n1"><circle cx="282" cy="649" r="13.5"/><text x="281" y="660">becker, g.s.</text></g>

<g id="n-schwartz" class="n2"><circle cx="658" cy="85" r="8.5"/><text x="658" y="92">schwartz, c.r.</text></g>
<g id="n-breen" class="n2"><circle cx="767" cy="126" r="8.5"/><text x="767" y="133">breen, r.</text></g>
<g id="n-shorrocks" class="n2"><circle cx="552" cy="139" r="8.5"/><text x="552" y="146">shorrocks, a.</text></g>
<g id="n-ravallion" class="n2"><circle cx="666" cy="189" r="8.5"/><text x="666" y="196">ravallion, m.</text></g>
<g id="n-akita" class="n2"><circle cx="508" cy="211" r="8.5"/><text x="507" y="218">akita, t.</text></g>
<g id="n-katz" class="n2"><circle cx="798" cy="211" r="8.5"/><text x="797" y="218">katz, l.f.</text></g>
<g id="n-ferreira" class="n2"><circle cx="620" cy="260" r="8.5"/><text x="620" y="267">ferreira, f.h.g.</text></g>
<g id="n-lustig" class="n2"><circle cx="501" cy="289" r="8.5"/><text x="500" y="296">lustig, n.</text></g>
<g id="n-morrisson" class="n2"><circle cx="752" cy="300" r="8.5"/><text x="752" y="307">morrisson, c.</text></g>
<g id="n-bourguignon" class="n2"><circle cx="631" cy="340" r="8.5"/><text x="631" y="347">bourguignon, f.</text></g>
<g id="n-squire" class="n2"><circle cx="501" cy="380" r="8.5"/><text x="500" y="387">squire, l.</text></g>
<g id="n-lemieux" class="n2"><circle cx="749" cy="382" r="8.5"/><text x="749" y="389">lemieux, t.</text></g>
<g id="n-milanovic" class="n2"><circle cx="593" cy="415" r="8.5"/><text x="593" y="422">milanovic, b.</text></g>
<g id="n-atkinson" class="n2"><circle cx="774" cy="444" r="8.5"/><text x="774" y="451">atkinson, a.b.</text></g>
<g id="n-sylwester" class="n2"><circle cx="657" cy="481" r="8.5"/><text x="655" y="488">sylwester, k.</text></g>
<g id="n-benabou" class="n2"><circle cx="509" cy="488" r="8.5"/><text x="508" y="495">benabou, r.</text></g>
<g id="n-goldin" class="n2"><circle cx="750" cy="531" r="8.5"/><text x="749" y="538">goldin, c.</text></g>
<g id="n-kuznets" class="n2"><circle cx="593" cy="537" r="8.5"/><text x="592" y="544">kuznets, s.</text></g>
<g id="n-piketty" class="n2"><circle cx="522" cy="577" r="8.5"/><text x="521" y="584">piketty, t.</text></g>
<g id="n-alesina" class="n2"><circle cx="654" cy="590" r="8.5"/><text x="654" y="597">alesina, a.</text></g>
<g id="n-li" class="n2"><circle cx="775" cy="609" r="8.5"/><text x="775" y="616">li, s.</text></g>
<g id="n-acemoglu" class="n2"><circle cx="565" cy="642" r="8.5"/><text x="565" y="649">acemoglu, d.</text></g>
<g id="n-saez" class="n2"><circle cx="686" cy="657" r="8.5"/><text x="685" y="664">saez, e.</text></g>

<g id="n-odhiambo" class="n3"><circle cx="1002" cy="155" r="4"/><text x="1002" y="158.5">odhiambo, n.m.</text></g>
<g id="n-nwachukwu" class="n3"><circle cx="915" cy="341" r="4"/><text x="914" y="344.5">nwachukwu, j.c.</text></g>
<g id="n-asongu" class="n3"><circle cx="1114" cy="364" r="4"/><text x="1114" y="367.5">asongu, s.a.</text></g>
<g id="n-tchamyou" class="n3"><circle cx="966" cy="517" r="4"/><text x="965" y="520.5">tchamyou, v.s.</text></g>
</g>

<g id="legend" class="leg">
<g id="legend-1"><rect class="box" x="208.5" y="696.5" width="84" height="17"/><text x="212" y="710">Cluster 1</text><rect x="271" y="696" width="21" height="17" fill="#ff0000"/></g>
<g id="legend-2"><rect class="box" x="603.5" y="696.5" width="84" height="17"/><text x="607" y="710">Cluster 2</text><rect x="667" y="696" width="21" height="17" fill="#0a64ff"/></g>
<g id="legend-3"><rect class="box" x="968.5" y="696.5" width="83" height="17"/><text x="972" y="710">Cluster 3</text><rect x="1031" y="696" width="21" height="17" fill="#6be86b"/></g>
</g>
</svg>
